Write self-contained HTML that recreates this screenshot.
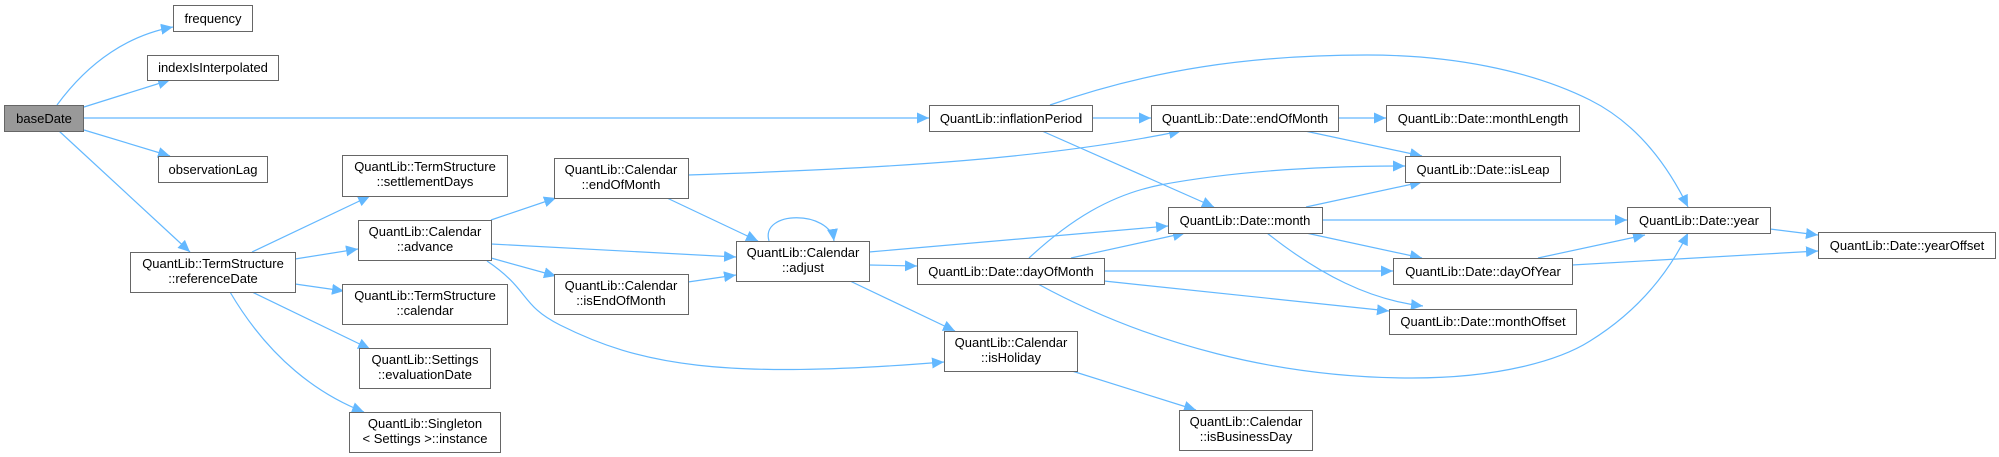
<!DOCTYPE html>
<html><head><meta charset="utf-8"><style>
html,body{margin:0;padding:0;background:#fff;}
svg{display:block;}
text{font-family:"Liberation Sans",Arial,sans-serif;font-size:13px;fill:#000;}
.n{fill:#fff;stroke:#666;stroke-width:1;}
.e{fill:none;stroke:#63b8ff;stroke-width:1.2;}
</style></head><body>
<svg width="1999" height="457" viewBox="0 0 1999 457" xmlns="http://www.w3.org/2000/svg">
<defs>
<marker id="a" markerUnits="userSpaceOnUse" markerWidth="14" markerHeight="12" refX="12" refY="5.5" orient="auto">
<path d="M0,0 L12,5.5 L0,11 Z" fill="#63b8ff"/>
</marker>
</defs>
<g marker-end="url(#a)">
<path class="e" d="M57,105 C90,60 130,35 173,27"/>
<path class="e" d="M84,107 L170,80"/>
<path class="e" d="M84,118 L929,118"/>
<path class="e" d="M84,130 L170,156"/>
<path class="e" d="M59,131 L190,252"/>
<path class="e" d="M252,252 L370,196"/>
<path class="e" d="M295,259 L358,249"/>
<path class="e" d="M295,284 L344,291"/>
<path class="e" d="M252,292 L370,349"/>
<path class="e" d="M230,292 C270,360 320,395 364,412"/>
<path class="e" d="M491,220 L556,198"/>
<path class="e" d="M491,244 L736,257"/>
<path class="e" d="M491,258 L556,276"/>
<path class="e" d="M487,261 C530,290 520,305 560,325 C640,365 720,380 944,362"/>
<path class="e" d="M688,175 C900,168 1050,158 1181,131"/>
<path class="e" d="M667,198 L758,241"/>
<path class="e" d="M688,282 L736,275"/>
<path class="e" d="M769,241 C760,210 830,210 834,241"/>
<path class="e" d="M869,252 L1168,226"/>
<path class="e" d="M869,265 L917,266"/>
<path class="e" d="M850,281 L955,331"/>
<path class="e" d="M1092,118 L1151,118"/>
<path class="e" d="M1042,131 L1214,207"/>
<path class="e" d="M1050,105 C1150,70 1250,55 1367,55 C1450,55 1530,70 1590,100 C1640,125 1670,170 1688,207"/>
<path class="e" d="M1338,118 L1386,118"/>
<path class="e" d="M1305,131 L1422,156"/>
<path class="e" d="M1029,258 C1070,220 1110,195 1160,185 C1240,170 1330,166 1405,166"/>
<path class="e" d="M1071,258 L1185,233"/>
<path class="e" d="M1104,271 L1393,271"/>
<path class="e" d="M1104,281 L1389,311"/>
<path class="e" d="M1038,284 C1150,345 1280,378 1412,378 C1500,378 1560,360 1590,341 C1640,310 1670,270 1688,233"/>
<path class="e" d="M1306,207 L1422,182"/>
<path class="e" d="M1322,220 L1627,220"/>
<path class="e" d="M1306,233 L1422,258"/>
<path class="e" d="M1267,233 C1320,275 1370,300 1423,306"/>
<path class="e" d="M1770,229 L1818,235"/>
<path class="e" d="M1572,265 L1818,251"/>
<path class="e" d="M1538,258 L1645,235"/>
<path class="e" d="M1072,371 L1196,410"/>
</g>
<g>
<rect x="4.5" y="105.5" width="79" height="26" fill="#999" stroke="#666"/>
<text x="44" y="123" text-anchor="middle">baseDate</text>
<rect class="n" x="173.5" y="5.5" width="79" height="26"/><text x="213" y="23" text-anchor="middle">frequency</text>
<rect class="n" x="147.5" y="55.5" width="131" height="25"/><text x="213" y="72" text-anchor="middle">indexIsInterpolated</text>
<rect class="n" x="158.5" y="156.5" width="109" height="26"/><text x="213" y="174" text-anchor="middle">observationLag</text>
<rect class="n" x="130.5" y="252.5" width="165" height="40"/><text x="213" y="268" text-anchor="middle">QuantLib::TermStructure</text><text x="213" y="283" text-anchor="middle">::referenceDate</text>
<rect class="n" x="342.5" y="155.5" width="165" height="41"/><text x="425" y="171" text-anchor="middle">QuantLib::TermStructure</text><text x="425" y="186" text-anchor="middle">::settlementDays</text>
<rect class="n" x="358.5" y="220.5" width="133" height="40"/><text x="425" y="236" text-anchor="middle">QuantLib::Calendar</text><text x="425" y="251" text-anchor="middle">::advance</text>
<rect class="n" x="342.5" y="284.5" width="165" height="40"/><text x="425" y="300" text-anchor="middle">QuantLib::TermStructure</text><text x="425" y="315" text-anchor="middle">::calendar</text>
<rect class="n" x="359.5" y="348.5" width="131" height="40"/><text x="425" y="364" text-anchor="middle">QuantLib::Settings</text><text x="425" y="379" text-anchor="middle">::evaluationDate</text>
<rect class="n" x="349.5" y="412.5" width="151" height="40"/><text x="425" y="428" text-anchor="middle">QuantLib::Singleton</text><text x="425" y="443" text-anchor="middle">&lt; Settings &gt;::instance</text>
<rect class="n" x="554.5" y="158.5" width="134" height="40"/><text x="621" y="174" text-anchor="middle">QuantLib::Calendar</text><text x="621" y="189" text-anchor="middle">::endOfMonth</text>
<rect class="n" x="554.5" y="274.5" width="134" height="40"/><text x="621" y="290" text-anchor="middle">QuantLib::Calendar</text><text x="621" y="305" text-anchor="middle">::isEndOfMonth</text>
<rect class="n" x="736.5" y="241.5" width="133" height="40"/><text x="803" y="257" text-anchor="middle">QuantLib::Calendar</text><text x="803" y="272" text-anchor="middle">::adjust</text>
<rect class="n" x="929.5" y="105.5" width="163" height="26"/><text x="1011" y="123" text-anchor="middle">QuantLib::inflationPeriod</text>
<rect class="n" x="1151.5" y="105.5" width="187" height="26"/><text x="1245" y="123" text-anchor="middle">QuantLib::Date::endOfMonth</text>
<rect class="n" x="1168.5" y="207.5" width="154" height="26"/><text x="1245" y="225" text-anchor="middle">QuantLib::Date::month</text>
<rect class="n" x="917.5" y="258.5" width="187" height="26"/><text x="1011" y="276" text-anchor="middle">QuantLib::Date::dayOfMonth</text>
<rect class="n" x="944.5" y="331.5" width="133" height="40"/><text x="1011" y="347" text-anchor="middle">QuantLib::Calendar</text><text x="1011" y="362" text-anchor="middle">::isHoliday</text>
<rect class="n" x="1179.5" y="410.5" width="133" height="40"/><text x="1246" y="426" text-anchor="middle">QuantLib::Calendar</text><text x="1246" y="441" text-anchor="middle">::isBusinessDay</text>
<rect class="n" x="1386.5" y="105.5" width="193" height="26"/><text x="1483" y="123" text-anchor="middle">QuantLib::Date::monthLength</text>
<rect class="n" x="1405.5" y="156.5" width="155" height="26"/><text x="1483" y="174" text-anchor="middle">QuantLib::Date::isLeap</text>
<rect class="n" x="1393.5" y="258.5" width="179" height="26"/><text x="1483" y="276" text-anchor="middle">QuantLib::Date::dayOfYear</text>
<rect class="n" x="1389.5" y="309.5" width="187" height="25"/><text x="1483" y="326" text-anchor="middle">QuantLib::Date::monthOffset</text>
<rect class="n" x="1627.5" y="207.5" width="143" height="26"/><text x="1699" y="225" text-anchor="middle">QuantLib::Date::year</text>
<rect class="n" x="1818.5" y="232.5" width="177" height="26"/><text x="1907" y="250" text-anchor="middle">QuantLib::Date::yearOffset</text>
</g>
</svg>
</body></html>
